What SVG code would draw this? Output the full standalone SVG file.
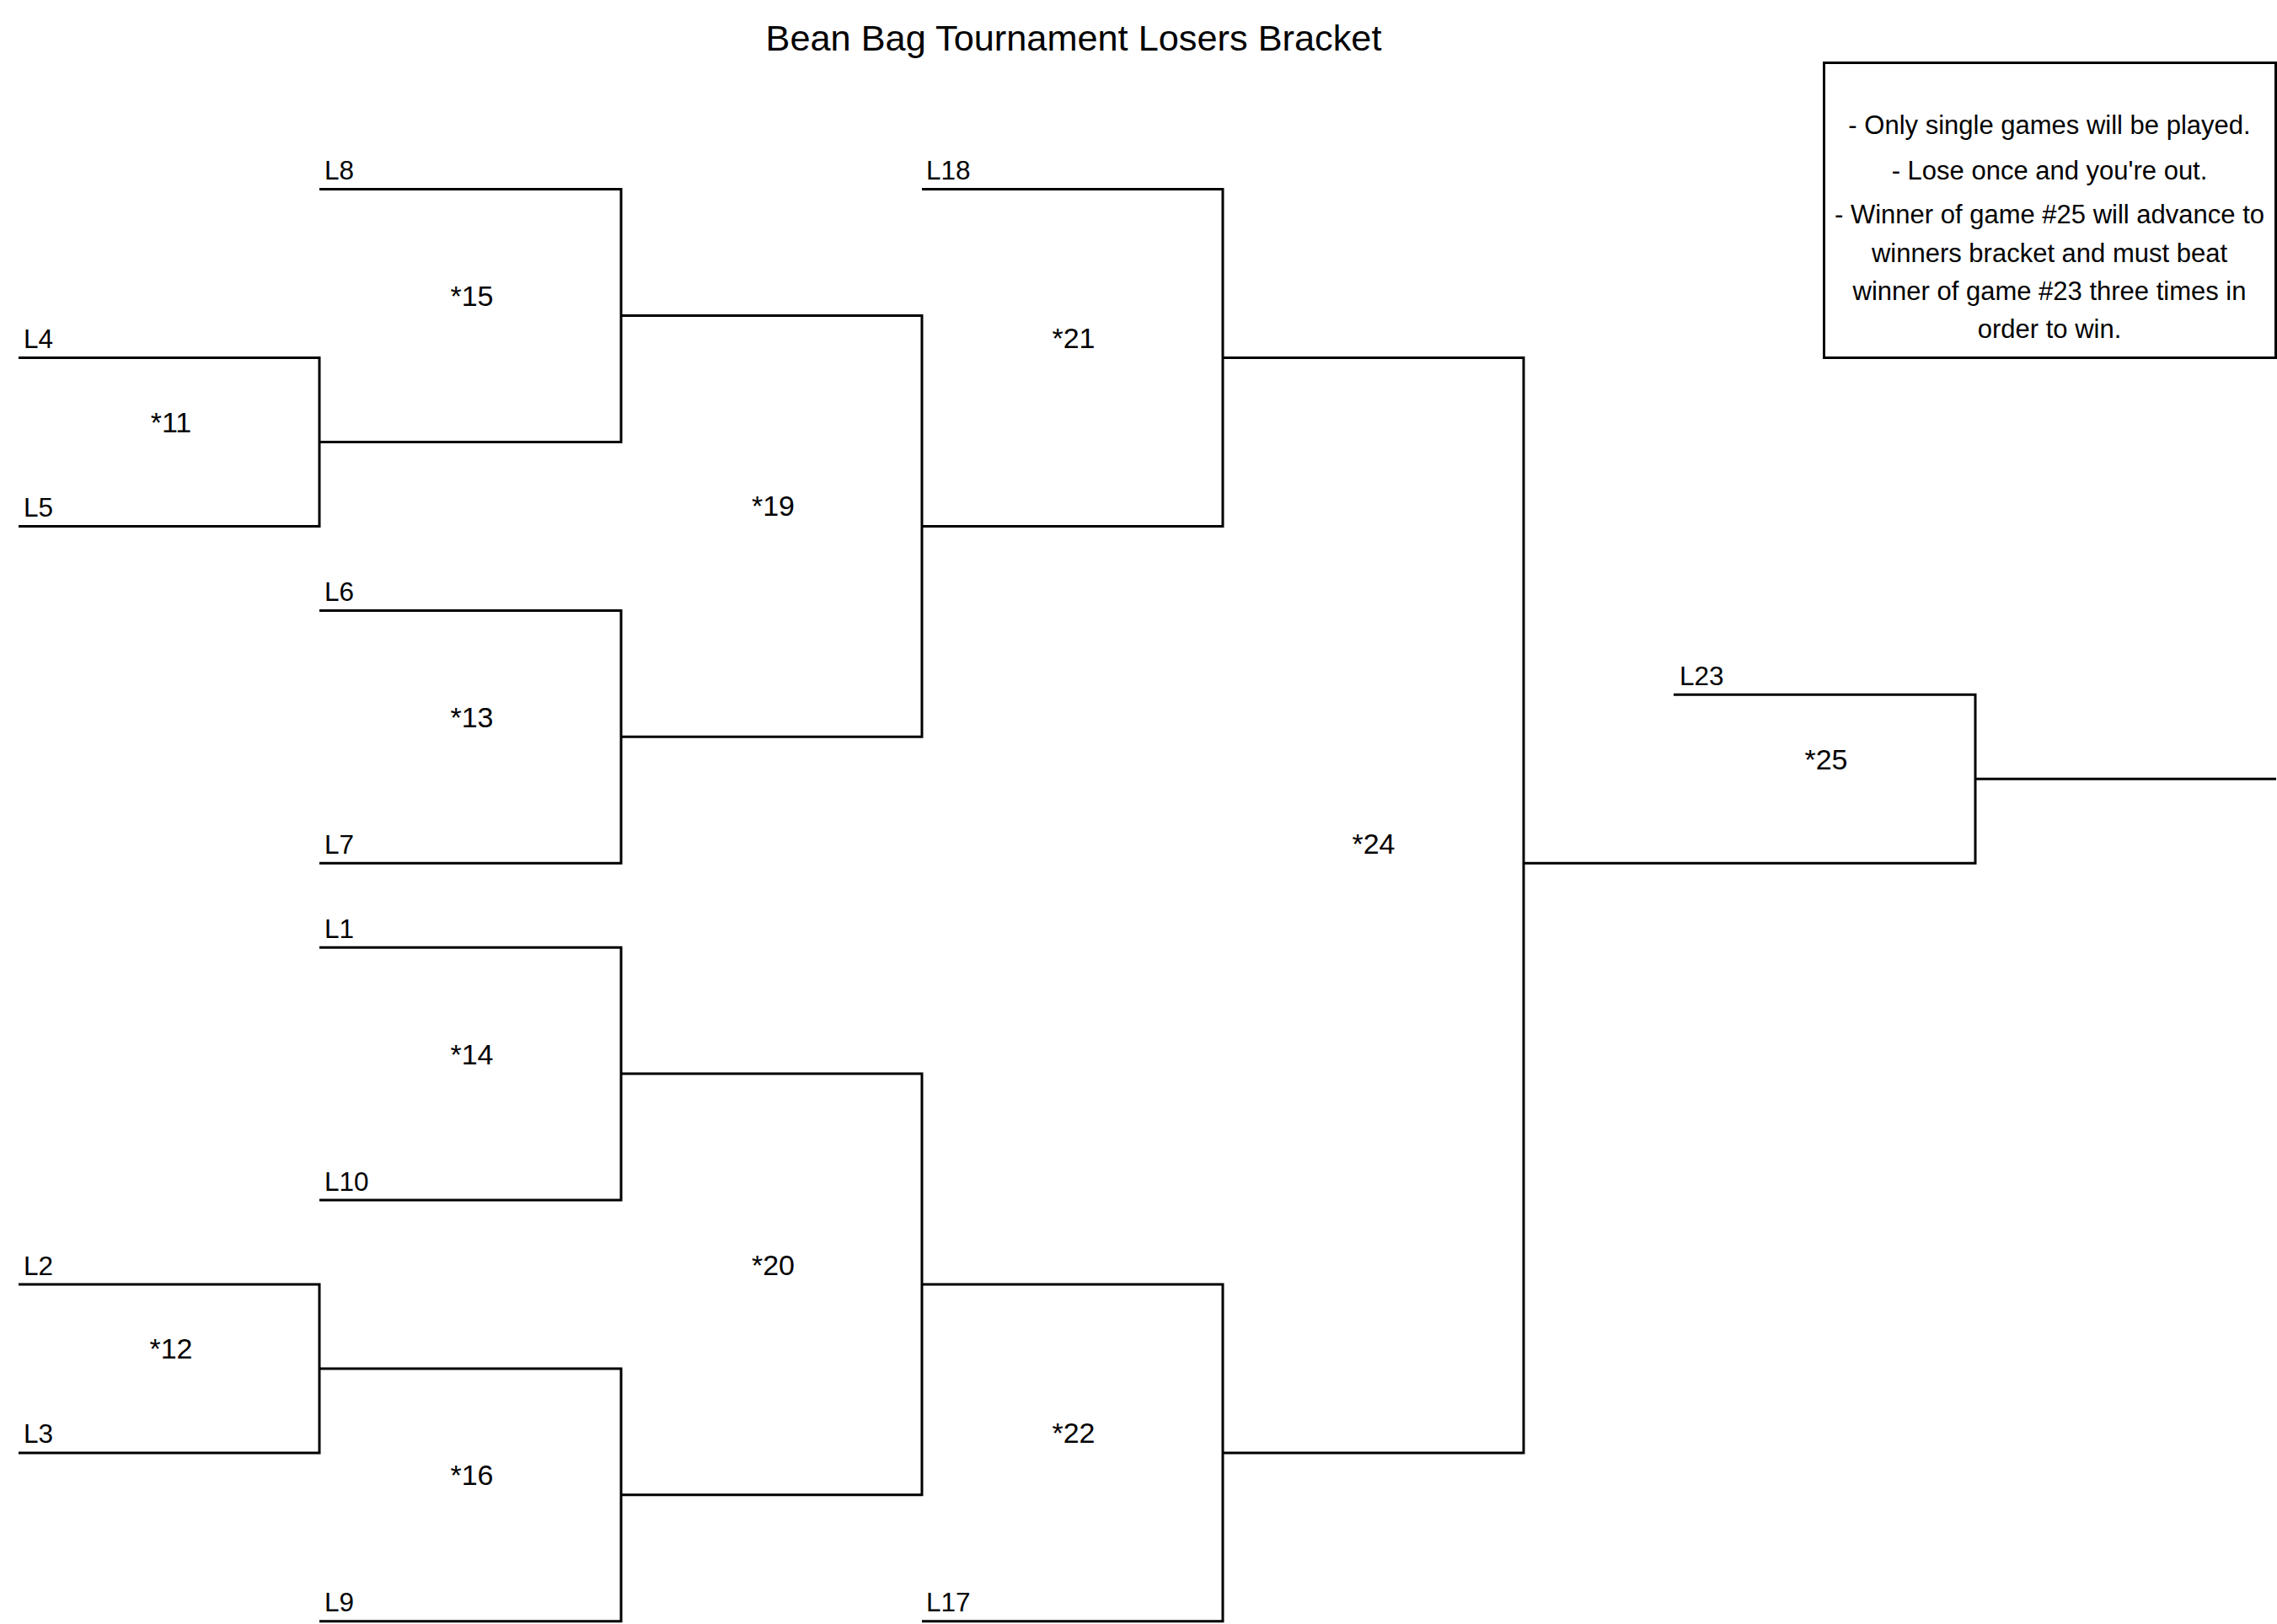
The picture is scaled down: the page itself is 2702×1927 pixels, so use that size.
<svg xmlns="http://www.w3.org/2000/svg" width="2702" height="1927" viewBox="0 0 2702 1927">
<style>
.ln{fill:none;stroke:#000;stroke-width:3;stroke-linejoin:miter;stroke-linecap:butt}
text{font-family:"Liberation Sans",Arial,sans-serif;fill:#000}
.lbl{font-size:31.5px}
.gm{font-size:34px;text-anchor:middle}
.ttl{font-size:43.3px;text-anchor:middle}
.note{font-size:31px;text-anchor:middle}
</style>
<rect x="0" y="0" width="2702" height="1927" fill="#fff"/>
<text id="title" class="ttl" x="1274" y="60">Bean Bag Tournament Losers Bracket</text>
<g id="connectors">
<path class="ln" d="M22,424.5H379V624.4H22"/>
<path class="ln" d="M379,224.6H737V524.5H379"/>
<path class="ln" d="M379,724.4H737V1024.2H379"/>
<path class="ln" d="M737,374.5H1094V874.3H737"/>
<path class="ln" d="M1094,224.6H1451V624.4H1094"/>
<path class="ln" d="M379,1124.2H737V1424H379"/>
<path class="ln" d="M22,1524H379V1723.9H22"/>
<path class="ln" d="M379,1623.9H737V1923.8H379"/>
<path class="ln" d="M737,1274.1H1094V1773.8H737"/>
<path class="ln" d="M1094,1524H1451V1923.8H1094"/>
<path class="ln" d="M1451,424.5H1808V1723.9H1451"/>
<path class="ln" d="M1986,824.3H2344V1024.2H1808"/>
<path class="ln" d="M2344,924.3H2701"/>
</g>
<g id="game-11"><text class="gm" x="203" y="513">*11</text></g>
<g id="game-12"><text class="gm" x="203" y="1612.4">*12</text></g>
<g id="game-13"><text class="gm" x="560" y="862.8">*13</text></g>
<g id="game-14"><text class="gm" x="560" y="1262.6">*14</text></g>
<g id="game-15"><text class="gm" x="560" y="363">*15</text></g>
<g id="game-16"><text class="gm" x="560" y="1762.3">*16</text></g>
<g id="game-19"><text class="gm" x="917.5" y="612">*19</text></g>
<g id="game-20"><text class="gm" x="917.5" y="1512.5">*20</text></g>
<g id="game-21"><text class="gm" x="1274" y="413">*21</text></g>
<g id="game-22"><text class="gm" x="1274" y="1712.4">*22</text></g>
<g id="game-24"><text class="gm" x="1630" y="1012.7">*24</text></g>
<g id="game-25"><text class="gm" x="2167" y="912.8">*25</text></g>
<g id="entrant-L8"><text class="lbl" x="385" y="213.1">L8</text></g>
<g id="entrant-L4"><text class="lbl" x="28" y="413">L4</text></g>
<g id="entrant-L5"><text class="lbl" x="28" y="612.9">L5</text></g>
<g id="entrant-L6"><text class="lbl" x="385" y="712.9">L6</text></g>
<g id="entrant-L7"><text class="lbl" x="385" y="1012.7">L7</text></g>
<g id="entrant-L18"><text class="lbl" x="1099" y="213.1">L18</text></g>
<g id="entrant-L1"><text class="lbl" x="385" y="1112.7">L1</text></g>
<g id="entrant-L10"><text class="lbl" x="385" y="1412.5">L10</text></g>
<g id="entrant-L2"><text class="lbl" x="28" y="1512.5">L2</text></g>
<g id="entrant-L3"><text class="lbl" x="28" y="1712.4">L3</text></g>
<g id="entrant-L9"><text class="lbl" x="385" y="1912.3">L9</text></g>
<g id="entrant-L17"><text class="lbl" x="1099" y="1912.3">L17</text></g>
<g id="entrant-L23"><text class="lbl" x="1993" y="812.8">L23</text></g>
<g id="rules">
<rect class="ln" x="2164.5" y="74.5" width="536" height="350"/>
<text class="note" x="2432" y="159">- Only single games will be played.</text>
<text class="note" x="2432" y="213">- Lose once and you're out.</text>
<text class="note" x="2432" y="265">- Winner of game #25 will advance to</text>
<text class="note" x="2432" y="311">winners bracket and must beat</text>
<text class="note" x="2432" y="356">winner of game #23 three times in</text>
<text class="note" x="2432" y="401">order to win.</text>
</g>
</svg>
